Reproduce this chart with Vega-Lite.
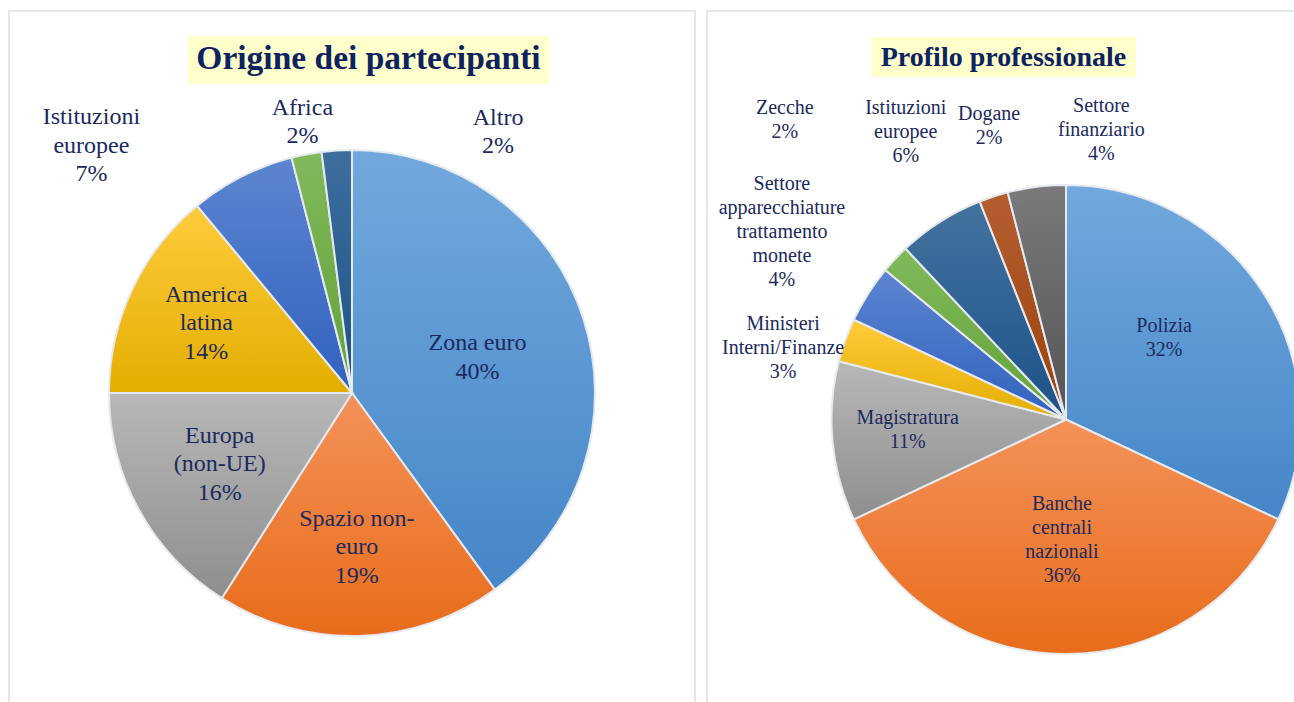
{
  "$schema": "https://vega.github.io/schema/vega-lite/v6.json",
  "padding": {"left": 8, "top": 10, "right": 0, "bottom": 0},
  "background": "white",
  "config": {
    "view": {"stroke": "#D9DEE7", "strokeWidth": 1.5},
    "text": {"font": "Liberation Serif"}
  },
  "spacing": 10,
  "datasets": {
    "origine": [
      {"cat": "Zona euro", "value": 40, "order": 1, "label": "Zona euro\n40%"},
      {"cat": "Spazio non-euro", "value": 19, "order": 2, "label": "Spazio non-\neuro\n19%"},
      {"cat": "Europa (non-UE)", "value": 16, "order": 3, "label": "Europa\n(non-UE)\n16%"},
      {"cat": "America latina", "value": 14, "order": 4, "label": "America\nlatina\n14%"},
      {"cat": "Istituzioni europee", "value": 7, "order": 5, "label": "Istituzioni\neuropee\n7%"},
      {"cat": "Africa", "value": 2, "order": 6, "label": "Africa\n2%"},
      {"cat": "Altro", "value": 2, "order": 7, "label": "Altro\n2%"}
    ],
    "profilo": [
      {"cat": "Polizia", "value": 32, "order": 1, "label": "Polizia\n32%"},
      {"cat": "Banche centrali nazionali", "value": 36, "order": 2, "label": "Banche\ncentrali\nnazionali\n36%"},
      {"cat": "Magistratura", "value": 11, "order": 3, "label": "Magistratura\n11%"},
      {"cat": "Ministeri Interni/Finanze", "value": 3, "order": 4, "label": "Ministeri\nInterni/Finanze\n3%"},
      {"cat": "Settore apparecchiature trattamento monete", "value": 4, "order": 5, "label": "Settore\napparecchiature\ntrattamento\nmonete\n4%"},
      {"cat": "Zecche", "value": 2, "order": 6, "label": "Zecche\n2%"},
      {"cat": "Istituzioni europee", "value": 6, "order": 7, "label": "Istituzioni\neuropee\n6%"},
      {"cat": "Dogane", "value": 2, "order": 8, "label": "Dogane\n2%"},
      {"cat": "Settore finanziario", "value": 4, "order": 9, "label": "Settore\nfinanziario\n4%"}
    ]
  },
  "hconcat": [
    {
      "width": 686,
      "height": 764,
      "data": {"name": "origine"},
      "layer": [
        {
          "data": {"values": [{}]},
          "mark": {"type": "rect", "fill": "#FFFFCC"},
          "encoding": {"x": {"value": 179}, "x2": {"value": 540}, "y": {"value": 25}, "y2": {"value": 73}}
        },
        {
          "data": {"values": [{}]},
          "mark": {"type": "text", "text": "Origine dei partecipanti", "fontSize": 33.5, "fontWeight": "bold", "fill": "#0D2260", "align": "center", "baseline": "alphabetic"},
          "encoding": {"x": {"value": 359.5}, "y": {"value": 58}}
        },
        {
          "mark": {"type": "arc", "outerRadius": 243, "stroke": "#E6EAF0", "strokeWidth": 2},
          "encoding": {
            "theta": {"field": "value", "type": "quantitative", "stack": true},
            "order": {"field": "order"},
            "fill": {
              "condition": [
                {"test": "datum.cat == 'Zona euro'", "value": {"gradient": "linear", "x1": 0, "y1": 0, "x2": 0, "y2": 1, "stops": [{"offset": 0, "color": "#72A8DD"}, {"offset": 1, "color": "#4586C8"}]}},
                {"test": "datum.cat == 'Spazio non-euro'", "value": {"gradient": "linear", "x1": 0, "y1": 0, "x2": 0, "y2": 1, "stops": [{"offset": 0, "color": "#F4925A"}, {"offset": 1, "color": "#E86C1A"}]}},
                {"test": "datum.cat == 'Europa (non-UE)'", "value": {"gradient": "linear", "x1": 0, "y1": 0, "x2": 0, "y2": 1, "stops": [{"offset": 0, "color": "#B8B8B8"}, {"offset": 1, "color": "#8E8E8E"}]}},
                {"test": "datum.cat == 'America latina'", "value": {"gradient": "linear", "x1": 0, "y1": 0, "x2": 0, "y2": 1, "stops": [{"offset": 0, "color": "#FFCB3D"}, {"offset": 1, "color": "#E3AE00"}]}},
                {"test": "datum.cat == 'Istituzioni europee'", "value": {"gradient": "linear", "x1": 0, "y1": 0, "x2": 0, "y2": 1, "stops": [{"offset": 0, "color": "#5D85D0"}, {"offset": 1, "color": "#3162BE"}]}},
                {"test": "datum.cat == 'Africa'", "value": {"gradient": "linear", "x1": 0, "y1": 0, "x2": 0, "y2": 1, "stops": [{"offset": 0, "color": "#80B95A"}, {"offset": 1, "color": "#62A23A"}]}}
              ],
              "value": {"gradient": "linear", "x1": 0, "y1": 0, "x2": 0, "y2": 1, "stops": [{"offset": 0, "color": "#3D6E9E"}, {"offset": 1, "color": "#1E5386"}]}
            }
          }
        },
        {
          "mark": {"type": "text", "clip": true, "radius": 132, "dy": -9, "fontSize": 24, "lineHeight": 28.5, "lineBreak": "\n", "fill": "#1B2A5E", "align": "center", "baseline": "middle"},
          "encoding": {"theta": {"field": "value", "type": "quantitative", "stack": true}, "order": {"field": "order"},
            "text": {"condition": {"test": "datum.cat == 'Zona euro'", "field": "label", "type": "nominal"}, "value": ""}}
        },
        {
          "mark": {"type": "text", "clip": true, "radius": 154, "dy": -28, "fontSize": 24, "lineHeight": 28.5, "lineBreak": "\n", "fill": "#1B2A5E", "align": "center", "baseline": "middle"},
          "encoding": {"theta": {"field": "value", "type": "quantitative", "stack": true}, "order": {"field": "order"},
            "text": {"condition": {"test": "datum.cat == 'Spazio non-euro'", "field": "label", "type": "nominal"}, "value": ""}}
        },
        {
          "mark": {"type": "text", "clip": true, "radius": 151, "dy": -30, "fontSize": 24, "lineHeight": 28.5, "lineBreak": "\n", "fill": "#1B2A5E", "align": "center", "baseline": "middle"},
          "encoding": {"theta": {"field": "value", "type": "quantitative", "stack": true}, "order": {"field": "order"},
            "text": {"condition": {"test": "datum.cat == 'Europa (non-UE)'", "field": "label", "type": "nominal"}, "value": ""}}
        },
        {
          "mark": {"type": "text", "clip": true, "radius": 161, "dy": -29.5, "fontSize": 24, "lineHeight": 28.5, "lineBreak": "\n", "fill": "#1B2A5E", "align": "center", "baseline": "middle"},
          "encoding": {"theta": {"field": "value", "type": "quantitative", "stack": true}, "order": {"field": "order"},
            "text": {"condition": {"test": "datum.cat == 'America latina'", "field": "label", "type": "nominal"}, "value": ""}}
        },
        {
          "mark": {"type": "text", "clip": true, "radius": 270, "dx": -138, "dy": -35, "fontSize": 24, "lineHeight": 28.5, "lineBreak": "\n", "fill": "#1B2A5E", "align": "center", "baseline": "middle"},
          "encoding": {"theta": {"field": "value", "type": "quantitative", "stack": true}, "order": {"field": "order"},
            "text": {"condition": {"test": "datum.cat == 'Istituzioni europee'", "field": "label", "type": "nominal"}, "value": ""}}
        },
        {
          "mark": {"type": "text", "clip": true, "radius": 270, "dx": 1, "dy": -20, "fontSize": 24, "lineHeight": 28.5, "lineBreak": "\n", "fill": "#1B2A5E", "align": "center", "baseline": "middle"},
          "encoding": {"theta": {"field": "value", "type": "quantitative", "stack": true}, "order": {"field": "order"},
            "text": {"condition": {"test": "datum.cat == 'Africa'", "field": "label", "type": "nominal"}, "value": ""}}
        },
        {
          "mark": {"type": "text", "clip": true, "radius": 270, "dx": 163, "dy": -6, "fontSize": 24, "lineHeight": 28.5, "lineBreak": "\n", "fill": "#1B2A5E", "align": "center", "baseline": "middle"},
          "encoding": {"theta": {"field": "value", "type": "quantitative", "stack": true}, "order": {"field": "order"},
            "text": {"condition": {"test": "datum.cat == 'Altro'", "field": "label", "type": "nominal"}, "value": ""}}
        }
      ]
    },
    {
      "width": 718,
      "height": 817,
      "data": {"name": "profilo"},
      "layer": [
        {
          "data": {"values": [{}]},
          "mark": {"type": "rect", "fill": "#FFFFCC"},
          "encoding": {"x": {"value": 164}, "x2": {"value": 429}, "y": {"value": 26}, "y2": {"value": 66}}
        },
        {
          "data": {"values": [{}]},
          "mark": {"type": "text", "text": "Profilo professionale", "fontSize": 28, "fontWeight": "bold", "fill": "#0D2260", "align": "center", "baseline": "alphabetic"},
          "encoding": {"x": {"value": 296.5}, "y": {"value": 55}}
        },
        {
          "mark": {"type": "arc", "outerRadius": 234.5, "stroke": "#E6EAF0", "strokeWidth": 2},
          "encoding": {
            "theta": {"field": "value", "type": "quantitative", "stack": true},
            "order": {"field": "order"},
            "fill": {
              "condition": [
                {"test": "datum.cat == 'Polizia'", "value": {"gradient": "linear", "x1": 0, "y1": 0, "x2": 0, "y2": 1, "stops": [{"offset": 0, "color": "#72A8DD"}, {"offset": 1, "color": "#4586C8"}]}},
                {"test": "datum.cat == 'Banche centrali nazionali'", "value": {"gradient": "linear", "x1": 0, "y1": 0, "x2": 0, "y2": 1, "stops": [{"offset": 0, "color": "#F4925A"}, {"offset": 1, "color": "#E86C1A"}]}},
                {"test": "datum.cat == 'Magistratura'", "value": {"gradient": "linear", "x1": 0, "y1": 0, "x2": 0, "y2": 1, "stops": [{"offset": 0, "color": "#B8B8B8"}, {"offset": 1, "color": "#8E8E8E"}]}},
                {"test": "datum.cat == 'Ministeri Interni/Finanze'", "value": {"gradient": "linear", "x1": 0, "y1": 0, "x2": 0, "y2": 1, "stops": [{"offset": 0, "color": "#FFCB3D"}, {"offset": 1, "color": "#E3AE00"}]}},
                {"test": "datum.cat == 'Settore apparecchiature trattamento monete'", "value": {"gradient": "linear", "x1": 0, "y1": 0, "x2": 0, "y2": 1, "stops": [{"offset": 0, "color": "#5D85D0"}, {"offset": 1, "color": "#3162BE"}]}},
                {"test": "datum.cat == 'Zecche'", "value": {"gradient": "linear", "x1": 0, "y1": 0, "x2": 0, "y2": 1, "stops": [{"offset": 0, "color": "#80B95A"}, {"offset": 1, "color": "#62A23A"}]}},
                {"test": "datum.cat == 'Istituzioni europee'", "value": {"gradient": "linear", "x1": 0, "y1": 0, "x2": 0, "y2": 1, "stops": [{"offset": 0, "color": "#44739F"}, {"offset": 1, "color": "#1C5188"}]}},
                {"test": "datum.cat == 'Dogane'", "value": {"gradient": "linear", "x1": 0, "y1": 0, "x2": 0, "y2": 1, "stops": [{"offset": 0, "color": "#B55E31"}, {"offset": 1, "color": "#9A420A"}]}}
              ],
              "value": {"gradient": "linear", "x1": 0, "y1": 0, "x2": 0, "y2": 1, "stops": [{"offset": 0, "color": "#7A7A7A"}, {"offset": 1, "color": "#545454"}]}
            }
          }
        },
        {
          "mark": {"type": "text", "clip": true, "radius": 128, "dx": -10, "dy": -25, "fontSize": 20, "lineHeight": 24, "lineBreak": "\n", "fill": "#1B2A5E", "align": "center", "baseline": "middle"},
          "encoding": {"theta": {"field": "value", "type": "quantitative", "stack": true}, "order": {"field": "order"},
            "text": {"condition": {"test": "datum.cat == 'Polizia'", "field": "label", "type": "nominal"}, "value": ""}}
        },
        {
          "mark": {"type": "text", "clip": true, "radius": 119, "dx": -4, "dy": -35, "fontSize": 20, "lineHeight": 24, "lineBreak": "\n", "fill": "#1B2A5E", "align": "center", "baseline": "middle"},
          "encoding": {"theta": {"field": "value", "type": "quantitative", "stack": true}, "order": {"field": "order"},
            "text": {"condition": {"test": "datum.cat == 'Banche centrali nazionali'", "field": "label", "type": "nominal"}, "value": ""}}
        },
        {
          "mark": {"type": "text", "clip": true, "radius": 157, "dx": -2, "dy": -16, "fontSize": 20, "lineHeight": 24, "lineBreak": "\n", "fill": "#1B2A5E", "align": "center", "baseline": "middle"},
          "encoding": {"theta": {"field": "value", "type": "quantitative", "stack": true}, "order": {"field": "order"},
            "text": {"condition": {"test": "datum.cat == 'Magistratura'", "field": "label", "type": "nominal"}, "value": ""}}
        },
        {
          "mark": {"type": "text", "clip": true, "radius": 289, "dx": -11, "dy": 2, "fontSize": 20, "lineHeight": 24, "lineBreak": "\n", "fill": "#1B2A5E", "align": "center", "baseline": "middle"},
          "encoding": {"theta": {"field": "value", "type": "quantitative", "stack": true}, "order": {"field": "order"},
            "text": {"condition": {"test": "datum.cat == 'Ministeri Interni/Finanze'", "field": "label", "type": "nominal"}, "value": ""}}
        },
        {
          "mark": {"type": "text", "clip": true, "radius": 340, "dx": 3, "dy": -53, "fontSize": 20, "lineHeight": 24, "lineBreak": "\n", "fill": "#1B2A5E", "align": "center", "baseline": "middle"},
          "encoding": {"theta": {"field": "value", "type": "quantitative", "stack": true}, "order": {"field": "order"},
            "text": {"condition": {"test": "datum.cat == 'Settore apparecchiature trattamento monete'", "field": "label", "type": "nominal"}, "value": ""}}
        },
        {
          "mark": {"type": "text", "clip": true, "radius": 409, "dx": 17, "dy": -32, "fontSize": 20, "lineHeight": 24, "lineBreak": "\n", "fill": "#1B2A5E", "align": "center", "baseline": "middle"},
          "encoding": {"theta": {"field": "value", "type": "quantitative", "stack": true}, "order": {"field": "order"},
            "text": {"condition": {"test": "datum.cat == 'Zecche'", "field": "label", "type": "nominal"}, "value": ""}}
        },
        {
          "mark": {"type": "text", "clip": true, "radius": 329, "dx": 16, "dy": -34, "fontSize": 20, "lineHeight": 24, "lineBreak": "\n", "fill": "#1B2A5E", "align": "center", "baseline": "middle"},
          "encoding": {"theta": {"field": "value", "type": "quantitative", "stack": true}, "order": {"field": "order"},
            "text": {"condition": {"test": "datum.cat == 'Istituzioni europee'", "field": "label", "type": "nominal"}, "value": ""}}
        },
        {
          "mark": {"type": "text", "clip": true, "radius": 304, "dx": 17, "dy": -16, "fontSize": 20, "lineHeight": 24, "lineBreak": "\n", "fill": "#1B2A5E", "align": "center", "baseline": "middle"},
          "encoding": {"theta": {"field": "value", "type": "quantitative", "stack": true}, "order": {"field": "order"},
            "text": {"condition": {"test": "datum.cat == 'Dogane'", "field": "label", "type": "nominal"}, "value": ""}}
        },
        {
          "mark": {"type": "text", "clip": true, "radius": 292, "dx": 72, "dy": -24, "fontSize": 20, "lineHeight": 24, "lineBreak": "\n", "fill": "#1B2A5E", "align": "center", "baseline": "middle"},
          "encoding": {"theta": {"field": "value", "type": "quantitative", "stack": true}, "order": {"field": "order"},
            "text": {"condition": {"test": "datum.cat == 'Settore finanziario'", "field": "label", "type": "nominal"}, "value": ""}}
        }
      ]
    }
  ]
}
